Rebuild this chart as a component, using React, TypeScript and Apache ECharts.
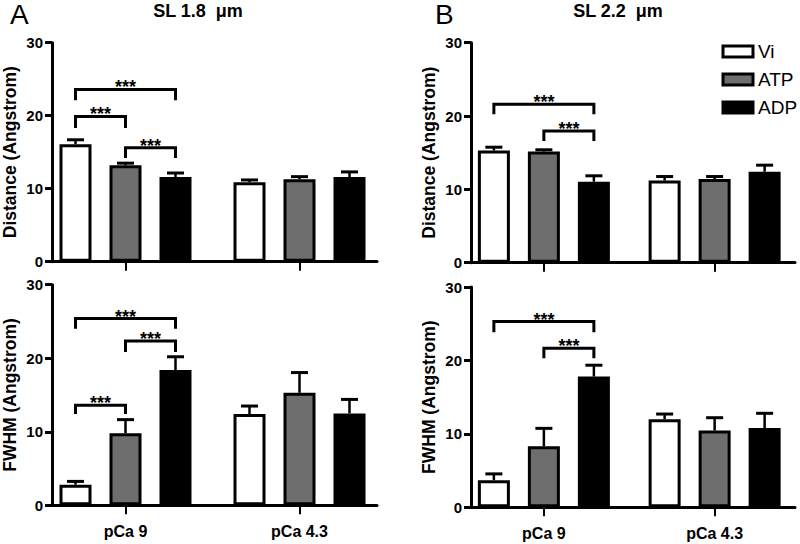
import React, { useEffect, useRef } from 'react';
import * as echarts from 'echarts';

// ---------- data ----------
const groups = ['pCa 9', 'pCa 4.3'];
const treatments = ['Vi', 'ATP', 'ADP'];

// [treatment][group]
const distSL18Mean = [[16.1, 10.9], [13.2, 11.3], [11.6, 11.6]];
const distSL18Err = [[0.6, 0.3], [0.3, 0.35], [0.55, 0.7]];
const fwhmSL18Mean = [[2.8, 12.4], [9.8, 15.3], [18.4, 12.5]];
const fwhmSL18Err = [[0.45, 1.1], [1.85, 2.75], [1.8, 1.9]];
const distSL22Mean = [[15.3, 11.2], [15.15, 11.4], [11.05, 12.4]];
const distSL22Err = [[0.45, 0.55], [0.25, 0.35], [0.8, 0.9]];
const fwhmSL22Mean = [[3.7, 12.0], [8.3, 10.45], [17.8, 10.8]];
const fwhmSL22Err = [[0.85, 0.7], [2.45, 1.75], [1.55, 2.0]];

// significance brackets: [group, fromTreatment, toTreatment, yTop, yLegEnd]
const distSL18Sig = [[0, 0, 2, 23.6, 22.1], [0, 0, 1, 19.9, 18.3], [0, 1, 2, 15.6, 14.2]];
const fwhmSL18Sig = [[0, 0, 2, 25.4, 24.0], [0, 1, 2, 22.35, 20.85], [0, 0, 1, 13.6, 12.4]];
const distSL22Sig = [[0, 0, 2, 21.6, 20.25], [0, 1, 2, 17.95, 16.6]];
const fwhmSL22Sig = [[0, 0, 2, 25.3, 23.85], [0, 1, 2, 21.65, 20.3]];

const yMin = 0;
const yMax = 30;
const yInterval = 10;

// ---------- styles / layout ----------
const FONT = "'Liberation Sans', Arial, sans-serif";
const NARROW = "'Liberation Sans Narrow', 'Arial Narrow', 'Liberation Sans', sans-serif";
const COLORS = ['#ffffff', '#6e6e6e', '#000000'];
const BAR_WIDTH = 32;
const BAR_GAP_PX = 18;
const STEP = BAR_WIDTH + BAR_GAP_PX;

const panels = [
  { mean: distSL18Mean, err: distSL18Err, sig: distSL18Sig, yName: 'Distance (Angstrom)', xLabels: false,
    barGrid: { left: 38.5, top: 42.7, width: 348, height: 219 },
    axisGrid: { left: 52, top: 42.7, width: 325, height: 219 } },
  { mean: fwhmSL18Mean, err: fwhmSL18Err, sig: fwhmSL18Sig, yName: 'FWHM (Angstrom)', xLabels: true,
    barGrid: { left: 38.5, top: 284.7, width: 348, height: 220.6 },
    axisGrid: { left: 52, top: 284.7, width: 325, height: 220.6 } },
  { mean: distSL22Mean, err: distSL22Err, sig: distSL22Sig, yName: 'Distance (Angstrom)', xLabels: false,
    barGrid: { left: 458.5, top: 42.7, width: 350, height: 220 },
    axisGrid: { left: 471, top: 42.7, width: 324, height: 220 } },
  { mean: fwhmSL22Mean, err: fwhmSL22Err, sig: fwhmSL22Sig, yName: 'FWHM (Angstrom)', xLabels: true,
    barGrid: { left: 458.5, top: 287, width: 350, height: 220.3 },
    axisGrid: { left: 471, top: 287, width: 324, height: 220.3 } },
];

function errRender(params: any, api: any) {
  const cat = api.value(0);
  const mean = api.value(1);
  const err = api.value(2);
  const t = api.value(3);
  const base = api.coord([cat, mean]);
  const top = api.coord([cat, mean + err]);
  const x = base[0] + (t - 1) * STEP;
  return {
    type: 'group',
    children: [
      { type: 'line', shape: { x1: x, y1: base[1], x2: x, y2: top[1] }, style: { stroke: '#000', lineWidth: 2.5 } },
      { type: 'line', shape: { x1: x - 8.5, y1: top[1], x2: x + 8.5, y2: top[1] }, style: { stroke: '#000', lineWidth: 3 } },
    ],
  };
}

function sigRender(params: any, api: any) {
  const cat = api.value(0);
  const from = api.value(1);
  const to = api.value(2);
  const c = api.coord([cat, api.value(3)]);
  const l = api.coord([cat, api.value(4)]);
  const x1 = c[0] + (from - 1) * STEP;
  const x2 = c[0] + (to - 1) * STEP;
  return {
    type: 'group',
    children: [
      {
        type: 'polyline',
        shape: { points: [[x1, l[1]], [x1, c[1]], [x2, c[1]], [x2, l[1]]] },
        style: { stroke: '#000', lineWidth: 3, fill: null },
      },
      {
        type: 'text',
        x: (x1 + x2) / 2,
        y: c[1] - 2,
        style: { text: '***', fontSize: 18, fontWeight: 'bold', fill: '#000', align: 'center', verticalAlign: 'middle', fontFamily: FONT },
      },
    ],
  };
}

export default function App() {
  const ref = useRef<HTMLDivElement>(null);
  useEffect(() => {
    if (!ref.current) return;
    const chart = echarts.init(ref.current, undefined, { renderer: 'svg' });
    const grid: any[] = [];
    const xAxis: any[] = [];
    const yAxis: any[] = [];
    const series: any[] = [];
    panels.forEach((p, i) => {
      const a = i * 2;
      const b = i * 2 + 1;
      grid.push({ ...p.barGrid, containLabel: false });
      grid.push({ ...p.axisGrid, containLabel: false });
      xAxis.push({
        type: 'category', gridIndex: a, data: groups,
        axisLine: { show: false },
        axisTick: { show: true, alignWithLabel: true, length: 9, lineStyle: { color: '#000', width: 2 } },
        axisLabel: { show: p.xLabels, color: '#000', fontSize: 16, fontWeight: 'bold', margin: 18, fontFamily: FONT },
        splitLine: { show: false },
      });
      xAxis.push({
        type: 'value', gridIndex: b, min: 0, max: 1,
        axisLine: { show: true, onZero: false, lineStyle: { color: '#000', width: 3 } },
        axisTick: { show: false }, axisLabel: { show: false }, splitLine: { show: false },
      });
      yAxis.push({ type: 'value', gridIndex: a, min: yMin, max: yMax, show: false });
      yAxis.push({
        type: 'value', gridIndex: b, min: yMin, max: yMax, interval: yInterval,
        axisLine: { show: true, lineStyle: { color: '#000', width: 3 } },
        axisTick: { show: true, length: 7, lineStyle: { color: '#000', width: 3 } },
        axisLabel: { color: '#000', fontSize: 15, fontWeight: 'bold', margin: 9, fontFamily: FONT },
        splitLine: { show: false },
        name: p.yName, nameLocation: 'middle', nameGap: 33, nameRotate: 90,
        nameTextStyle: { color: '#000', fontSize: 17.5, fontWeight: 'bold', fontFamily: FONT },
      });
      treatments.forEach((t, ti) => {
        series.push({
          type: 'bar', name: t, xAxisIndex: a, yAxisIndex: a, data: p.mean[ti],
          barWidth: BAR_WIDTH, barGap: `${(BAR_GAP_PX / BAR_WIDTH) * 100}%`,
          itemStyle: { color: COLORS[ti], borderColor: '#000', borderWidth: 3 },
          silent: true,
        });
      });
      const errData: number[][] = [];
      treatments.forEach((t, ti) => {
        groups.forEach((g, gi) => {
          errData.push([gi, p.mean[ti][gi], p.err[ti][gi], ti]);
        });
      });
      series.push({
        type: 'custom', xAxisIndex: a, yAxisIndex: a, renderItem: errRender, data: errData,
        encode: { x: 0, y: 1 }, z: 3, silent: true,
      });
      series.push({
        type: 'custom', xAxisIndex: a, yAxisIndex: a, renderItem: sigRender, data: p.sig,
        encode: { x: 0, y: 3 }, z: 3, silent: true,
      });
    });

    chart.setOption({
      animation: false,
      backgroundColor: '#fff',
      grid, xAxis, yAxis, series,
      legend: {
        data: treatments, orient: 'vertical', left: 716.5, top: 37,
        itemWidth: 30, itemHeight: 11, itemGap: 9, icon: 'rect', selectedMode: false,
        itemStyle: { borderColor: '#000', borderWidth: 3 },
        textStyle: { fontSize: 19, color: '#000', fontFamily: NARROW },
      },
      graphic: [
        { type: 'text', x: 10, y: 0, style: { text: 'A', fontSize: 28, fill: '#000', fontFamily: FONT, verticalAlign: 'top' } },
        { type: 'text', x: 435, y: 0, style: { text: 'B', fontSize: 28, fill: '#000', fontFamily: FONT, verticalAlign: 'top' } },
        { type: 'text', x: 198, y: 2, style: { text: 'SL 1.8  μm', fontSize: 18, fontWeight: 'bold', fill: '#000', fontFamily: FONT, align: 'center', verticalAlign: 'top' } },
        { type: 'text', x: 618, y: 2, style: { text: 'SL 2.2  μm', fontSize: 18, fontWeight: 'bold', fill: '#000', fontFamily: FONT, align: 'center', verticalAlign: 'top' } },
      ],
    });
    return () => chart.dispose();
  }, []);
  return <div ref={ref} style={{ position: 'fixed', left: 0, top: 0, width: 800, height: 544 }} />;
}
